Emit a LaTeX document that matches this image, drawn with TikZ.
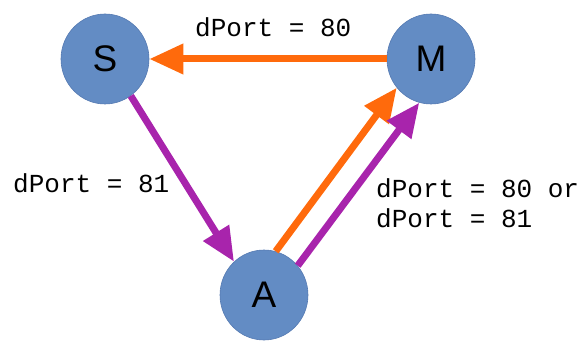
\documentclass[tikz,border=0pt]{standalone}
\usepackage{fontspec}
\setmainfont{Liberation Sans}
\setmonofont{Liberation Mono}
\usetikzlibrary{arrows.meta,shapes.geometric}
\definecolor{hostblue}{RGB}{99,140,196}
\definecolor{hostedge}{RGB}{85,122,178}
\definecolor{flowor}{RGB}{255,106,12}
\definecolor{flowpu}{RGB}{168,36,172}
\tikzset{
  host/.style={ellipse, fill=hostblue, draw=hostedge, line width=0.6pt,
    minimum width=88pt, minimum height=90pt, inner sep=0pt,
    font=\fontsize{37}{40}\selectfont},
  flow/.style={line width=7pt, -{Triangle[length=34pt,width=29pt]}},
  portlbl/.style={font=\ttfamily\fontsize{26}{30}\selectfont, inner sep=0pt, align=left}
}
\begin{document}
\begin{tikzpicture}[x=1pt,y=-1pt]
  \useasboundingbox (0,0) rectangle (581,342);
  \node[host] (S) at (105,59) {S};
  \node[host] (M) at (431,59) {M};
  \node[host] (A) at (264,295) {A};
  % traffic between the three hosts
  \draw[flow, flowor] (M.west) -- (S.east);
  \draw[flow, flowpu] (S.-55) -- (A.132);
  \draw[flow, flowor] (A.75) -- (M.220);
  \draw[flow, flowpu] (A.41) -- (M.-105);
  % port labels (base of a two-line label is its last line)
  \node[portlbl, anchor=base west] (l1) at (195,37) {dPort = 80};
  \node[portlbl, anchor=base west] (l2) at (13,193) {dPort = 81};
  \node[portlbl, anchor=base west] (l3) at (376,227) {dPort = 80 or\\dPort = 81};
\end{tikzpicture}
\end{document}
